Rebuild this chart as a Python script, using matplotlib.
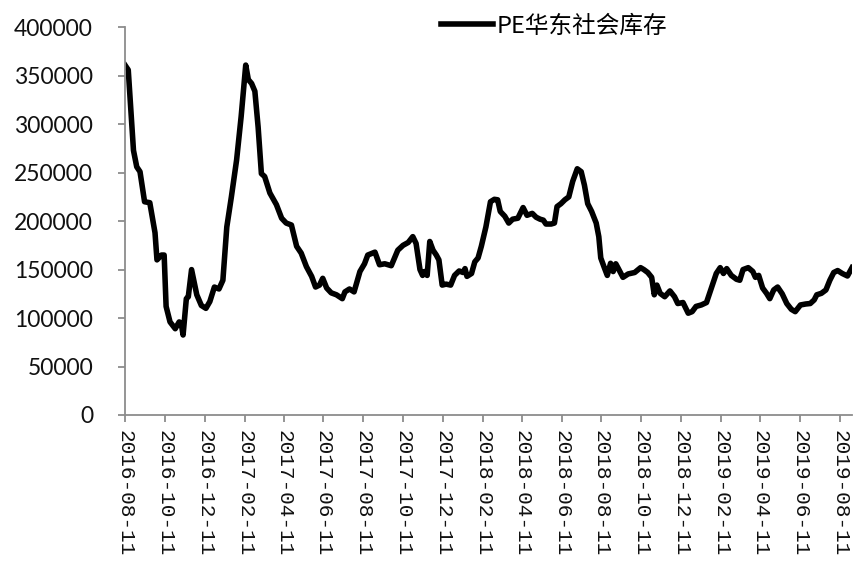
import matplotlib
matplotlib.use('Agg')
import matplotlib.pyplot as plt
import pandas as pd

# PE华东社会库存 (吨), 读图估计
dates = [
    '2016-08-11', '2016-08-16', '2016-08-24', '2016-08-29', '2016-09-03', '2016-09-10',
    '2016-09-18', '2016-09-26', '2016-09-29', '2016-10-06', '2016-10-10', '2016-10-13',
    '2016-10-19', '2016-10-27', '2016-11-02', '2016-11-05', '2016-11-08', '2016-11-13',
    '2016-11-16', '2016-11-21', '2016-11-29', '2016-12-06', '2016-12-13', '2016-12-19',
    '2016-12-26', '2017-01-02', '2017-01-08', '2017-01-14', '2017-01-21', '2017-01-29',
    '2017-02-05', '2017-02-12', '2017-02-16', '2017-02-21', '2017-02-26', '2017-03-03',
    '2017-03-08', '2017-03-13', '2017-03-21', '2017-03-31', '2017-04-08', '2017-04-15',
    '2017-04-23', '2017-05-01', '2017-05-08', '2017-05-16', '2017-05-24', '2017-05-30',
    '2017-06-05', '2017-06-10', '2017-06-16', '2017-06-23', '2017-07-01', '2017-07-10',
    '2017-07-14', '2017-07-21', '2017-07-28', '2017-08-06', '2017-08-13', '2017-08-18',
    '2017-08-29', '2017-09-05', '2017-09-13', '2017-09-23', '2017-10-03', '2017-10-11',
    '2017-10-19', '2017-10-26', '2017-10-31', '2017-11-06', '2017-11-10', '2017-11-13',
    '2017-11-17', '2017-11-21', '2017-11-26', '2017-12-01', '2017-12-05', '2017-12-10',
    '2017-12-16', '2017-12-23', '2017-12-29', '2018-01-05', '2018-01-11', '2018-01-14',
    '2018-01-17', '2018-01-24', '2018-01-29', '2018-02-03', '2018-02-08', '2018-02-15',
    '2018-02-22', '2018-02-28', '2018-03-05', '2018-03-09', '2018-03-16', '2018-03-22',
    '2018-03-28', '2018-04-05', '2018-04-13', '2018-04-19', '2018-04-27', '2018-05-03',
    '2018-05-09', '2018-05-14', '2018-05-18', '2018-05-26', '2018-05-31', '2018-06-04',
    '2018-06-10', '2018-06-16', '2018-06-22', '2018-06-28', '2018-07-05', '2018-07-11',
    '2018-07-16', '2018-07-21', '2018-07-27', '2018-08-03', '2018-08-07', '2018-08-10',
    '2018-08-16', '2018-08-20', '2018-08-25', '2018-08-29', '2018-09-02', '2018-09-06',
    '2018-09-13', '2018-09-21', '2018-10-01', '2018-10-10', '2018-10-15', '2018-10-21',
    '2018-10-27', '2018-10-31', '2018-11-04', '2018-11-09', '2018-11-16', '2018-11-24',
    '2018-12-01', '2018-12-06', '2018-12-14', '2018-12-22', '2018-12-28', '2019-01-03',
    '2019-01-11', '2019-01-19', '2019-01-27', '2019-02-03', '2019-02-09', '2019-02-14',
    '2019-02-19', '2019-02-26', '2019-03-06', '2019-03-11', '2019-03-16', '2019-03-24',
    '2019-03-31', '2019-04-04', '2019-04-09', '2019-04-15', '2019-04-21', '2019-04-26',
    '2019-05-02', '2019-05-08', '2019-05-15', '2019-05-22', '2019-05-29', '2019-06-04',
    '2019-06-12', '2019-06-20', '2019-06-27', '2019-07-03', '2019-07-07', '2019-07-14',
    '2019-07-21', '2019-07-27', '2019-08-02', '2019-08-08', '2019-08-15', '2019-08-23',
    '2019-08-30',
]

inventory = [
    361000, 356000, 273000, 256000, 251000, 220000,
    219000, 188000, 160000, 165000, 165000, 112000,
    96000, 89000, 96000, 95000, 82500, 120000,
    122000, 150000, 124000, 113000, 110000, 117000,
    132000, 130000, 139000, 194000, 225000, 263000,
    308000, 361000, 346000, 342000, 334000, 297000,
    249000, 246000, 229000, 217000, 203000, 198000,
    196000, 174000, 167000, 153000, 143000, 132000,
    134000, 141000, 131000, 126000, 124000, 120000,
    127000, 130000, 127000, 148000, 156000, 165000,
    168000, 155000, 156000, 154000, 170000, 175000,
    178000, 184000, 177000, 150000, 144000, 148000,
    144000, 179000, 170000, 165000, 160000, 134000,
    135000, 134000, 144000, 148600, 147000, 151000,
    143000, 146000, 158000, 162000, 174000, 194000,
    220000, 222500, 222000, 210000, 205000, 198000,
    202000, 203000, 214000, 206000, 208000, 204000,
    202000, 201000, 197000, 197000, 198000, 215000,
    218000, 222000, 225000, 241000, 254000, 251000,
    237000, 218000, 210000, 198000, 184000, 162000,
    151000, 144000, 156500, 148000, 156000, 151000,
    142000, 145500, 147000, 152000, 150000, 147000,
    142000, 124000, 134000, 125500, 122000, 128000,
    122000, 115000, 116000, 105000, 106600, 112000,
    113500, 116000, 132000, 146000, 152000, 146000,
    151000, 144000, 140000, 139000, 150000, 152000,
    148000, 142000, 144000, 131000, 125500, 120000,
    129000, 132000, 125000, 115000, 109000, 106600,
    113500, 114500, 115000, 118700, 124000, 125500,
    129000, 139000, 147000, 149000, 146000, 143400,
    152000,
]

tick_labels = [
    '2016-08-11', '2016-10-11', '2016-12-11', '2017-02-11', '2017-04-11',
    '2017-06-11', '2017-08-11', '2017-10-11', '2017-12-11', '2018-02-11',
    '2018-04-11', '2018-06-11', '2018-08-11', '2018-10-11', '2018-12-11',
    '2019-02-11', '2019-04-11', '2019-06-11', '2019-08-11',
]
y_ticks = [0, 50000, 100000, 150000, 200000, 250000, 300000, 350000, 400000]
series_name = 'PE华东社会库存'

fig = plt.figure(figsize=(8.65, 5.68), dpi=100)
ax = fig.add_axes([0.1445, 0.2694, 0.8405, 0.6826])

ax.plot(pd.to_datetime(dates), inventory, color='black', linewidth=4,
        solid_joinstyle='round', label=series_name)

ax.set_xlim(pd.Timestamp('2016-08-11'), pd.Timestamp('2019-08-30'))
ax.set_ylim(0, 400000)

ax.set_yticks(y_ticks)
ax.set_yticklabels([str(v) for v in y_ticks], fontsize=16.5, family='Lato', color='#111111')
ax.set_xticks(pd.to_datetime(tick_labels))
ax.set_xticklabels(tick_labels, rotation=-90, fontsize=15.2,
                   family='Liberation Mono', color='#111111', va='top', ha='center')

for side in ['top', 'right']:
    ax.spines[side].set_visible(False)
for side in ['left', 'bottom']:
    ax.spines[side].set_color('#8c8c8c')
    ax.spines[side].set_linewidth(1.3)
ax.tick_params(axis='both', direction='out', length=5, width=1.3, color='#8c8c8c')
ax.tick_params(axis='y', pad=18)
ax.tick_params(axis='x', pad=6)

ax.legend(loc='center left', bbox_to_anchor=(441 / 865, 1 - 26 / 568),
          bbox_transform=fig.transFigure, frameon=False, borderpad=0,
          borderaxespad=0, handlelength=2.2, handletextpad=0.15,
          prop={'family': ['Noto Sans CJK SC', 'DejaVu Sans'], 'size': 17})

fig.savefig('out.png', dpi=100)
